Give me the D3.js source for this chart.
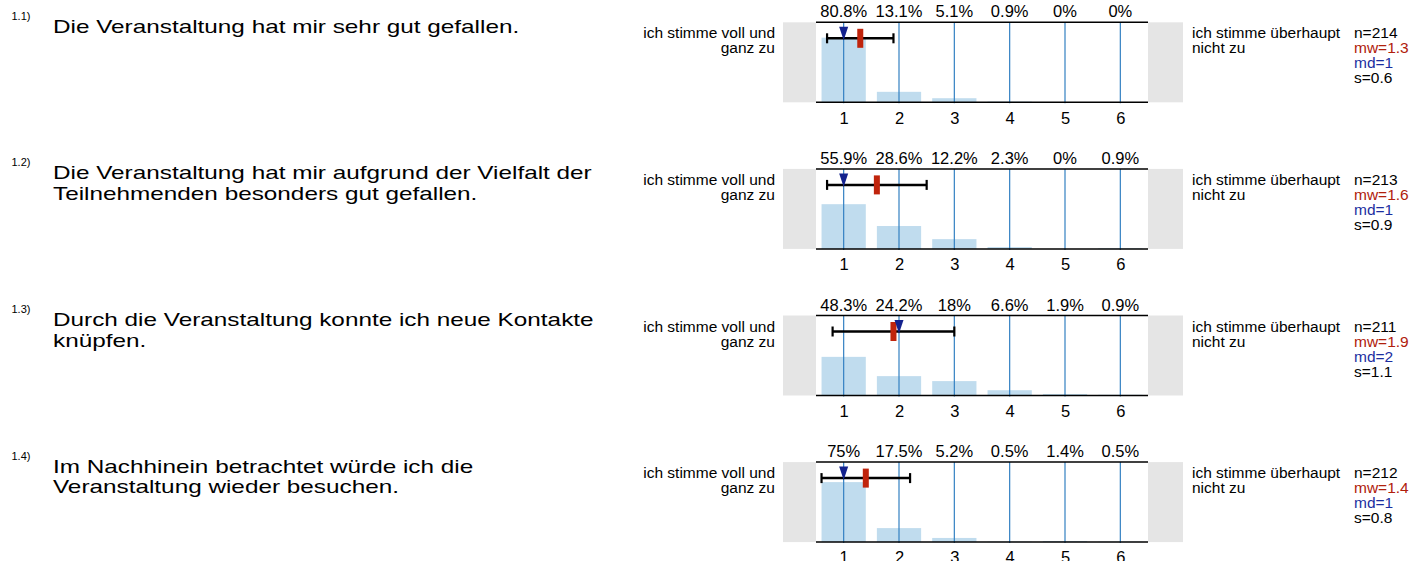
<!DOCTYPE html>
<html>
<head>
<meta charset="utf-8">
<script src="https://cdn.jsdelivr.net/npm/d3@7"></script>
<style>
  html, body { margin: 0; padding: 0; background: #fff; }
  svg { display: block; font-family: Arial, "Liberation Sans", sans-serif; }
</style>
</head>
<body>
<svg id="chart" width="1417" height="561"></svg>
<script>
// ---------- data ----------
const itemNumbers = ["1.1)", "1.2)", "1.3)", "1.4)"];
const questionLines = [
  ["Die Veranstaltung hat mir sehr gut gefallen."],
  ["Die Veranstaltung hat mir aufgrund der Vielfalt der", "Teilnehmenden besonders gut gefallen."],
  ["Durch die Veranstaltung konnte ich neue Kontakte", "knüpfen."],
  ["Im Nachhinein betrachtet würde ich die", "Veranstaltung wieder besuchen."]
];
const scaleCategories = [1, 2, 3, 4, 5, 6];
const pct1 = [80.8, 13.1, 5.1, 0.9, 0, 0];
const pct2 = [55.9, 28.6, 12.2, 2.3, 0, 0.9];
const pct3 = [48.3, 24.2, 18, 6.6, 1.9, 0.9];
const pct4 = [75, 17.5, 5.2, 0.5, 1.4, 0.5];
const percentages = [pct1, pct2, pct3, pct4];
const nValues = [214, 213, 211, 212];
const meanValues = [1.3, 1.6, 1.9, 1.4];
const medianValues = [1, 1, 2, 1];
const sdValues = [0.6, 0.9, 1.1, 0.8];
const leftAnchor = ["ich stimme voll und", "ganz zu"];
const rightAnchor = ["ich stimme überhaupt", "nicht zu"];

// ---------- layout ----------
const svg = d3.select("#chart");
const plotLeft = 816, plotRight = 1148;
const grayLeft = 783, grayRight = 1183;
const plotH = 80;
const firstTop = 22.3, step = 146.6;

const xBand = d3.scaleBand().domain(scaleCategories).range([plotLeft, plotRight])
  .paddingInner(0.2).paddingOuter(0.1);
const xLin = d3.scaleLinear().domain([0.5, 6.5]).range([plotLeft, plotRight]);

const C = {
  gray: "#e5e5e5", bar: "#c0dcee", vline: "#3380c2",
  red: "#c0240c", navy: "#13228e", mwText: "#b0200c", mdText: "#1c2ea0"
};

function label(g, x, y, txt, size, opts = {}) {
  const sx = opts.sx || 1;
  return g.append("text")
    .attr("transform", `translate(${x},${y}) scale(${sx},1)`)
    .attr("font-size", size)
    .attr("text-anchor", opts.anchor || "start")
    .attr("fill", opts.fill || "#000")
    .text(txt);
}

percentages.forEach((pct, i) => {
  const top = firstTop + i * step;
  const bottom = top + plotH;
  const y = d3.scaleLinear().domain([0, 100]).range([bottom, top]);
  const g = svg.append("g");

  // question
  label(g, 11.5, top - 2.5, itemNumbers[i], 11);
  questionLines[i].forEach((line, j) => {
    label(g, 53, top + 10.5 + j * 20.5, line, 19, {sx: 1.28});
  });

  // gray side boxes
  g.append("rect").attr("x", grayLeft).attr("y", top).attr("width", plotLeft - grayLeft)
    .attr("height", plotH).attr("fill", C.gray);
  g.append("rect").attr("x", plotRight).attr("y", top).attr("width", grayRight - plotRight)
    .attr("height", plotH).attr("fill", C.gray);

  // bars
  g.selectAll("rect.bar").data(scaleCategories).enter().append("rect")
    .attr("class", "bar")
    .attr("x", d => xBand(d))
    .attr("width", xBand.bandwidth())
    .attr("y", (d, k) => y(pct[k]))
    .attr("height", (d, k) => bottom - y(pct[k]))
    .attr("fill", C.bar);

  // vertical blue lines
  g.selectAll("line.v").data(scaleCategories).enter().append("line")
    .attr("x1", d => xLin(d)).attr("x2", d => xLin(d))
    .attr("y1", top).attr("y2", bottom + 1)
    .attr("stroke", C.vline).attr("stroke-width", 1.2);

  // top / bottom lines
  [top, bottom].forEach(yy => {
    g.append("line").attr("x1", plotLeft).attr("x2", plotRight)
      .attr("y1", yy).attr("y2", yy).attr("stroke", "#000").attr("stroke-width", 1.5);
  });

  // percentage labels
  scaleCategories.forEach((d, k) => {
    label(g, xLin(d), top - 5, pct[k] + "%", 16.5, {anchor: "middle"});
  });

  // tick labels via axis
  const axis = d3.axisBottom(xLin).tickValues(scaleCategories).tickSize(0).tickPadding(0)
    .tickFormat(d3.format("d"));
  const ag = g.append("g").attr("transform", `translate(0,${bottom})`).call(axis);
  ag.select(".domain").remove();
  ag.selectAll("text").attr("font-size", 16.5).attr("font-family", "Arial, 'Liberation Sans', sans-serif")
    .attr("fill", "#000").attr("dy", null).attr("y", 21.3);

  // error bar (mean ± sd)
  const ey = top + 16;
  const lo = meanValues[i] - sdValues[i], hi = meanValues[i] + sdValues[i];
  g.append("line").attr("x1", xLin(lo)).attr("x2", xLin(hi)).attr("y1", ey).attr("y2", ey)
    .attr("stroke", "#000").attr("stroke-width", 2.5);
  [lo, hi].forEach(v => {
    g.append("line").attr("x1", xLin(v)).attr("x2", xLin(v)).attr("y1", ey - 5).attr("y2", ey + 5)
      .attr("stroke", "#000").attr("stroke-width", 2.2);
  });
  // mean
  g.append("rect").attr("x", xLin(meanValues[i]) - 3).attr("y", ey - 9.5)
    .attr("width", 6).attr("height", 19).attr("fill", C.red);
  // median triangle
  const mx = xLin(medianValues[i]);
  g.append("path")
    .attr("d", `M${mx - 4.5},${top + 4.5}L${mx + 4.5},${top + 4.5}L${mx},${top + 18}Z`)
    .attr("fill", C.navy);

  // anchors
  leftAnchor.forEach((t, j) => {
    label(g, 775, top + 16 + j * 15, t, 15.5, {anchor: "end"});
  });
  rightAnchor.forEach((t, j) => {
    label(g, 1192, top + 16 + j * 15, t, 15.5);
  });

  // stats
  const stats = [
    {t: "n=" + nValues[i], c: "#000"},
    {t: "mw=" + meanValues[i], c: C.mwText},
    {t: "md=" + medianValues[i], c: C.mdText},
    {t: "s=" + sdValues[i], c: "#000"}
  ];
  stats.forEach((s, j) => {
    label(g, 1354, top + 16 + j * 15, s.t, 15.5, {fill: s.c});
  });
});
</script>
</body>
</html>
